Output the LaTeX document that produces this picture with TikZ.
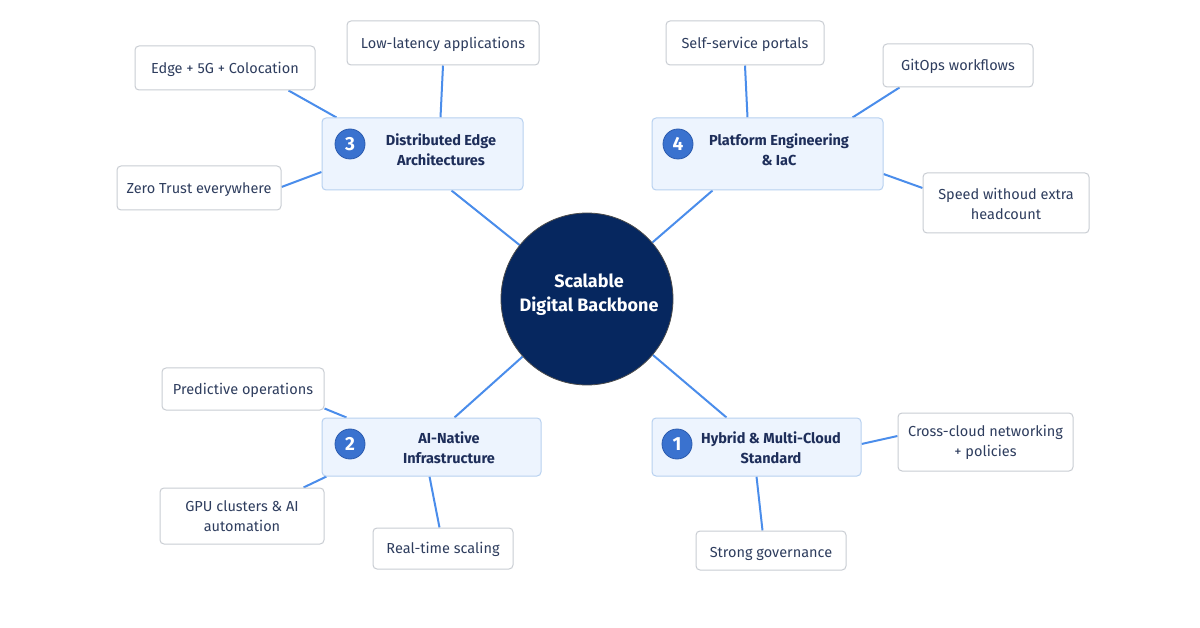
\documentclass[tikz,border=0pt]{standalone}
\usepackage{fontspec}
\setmainfont{Fira Sans}
\usetikzlibrary{backgrounds,calc}
\definecolor{navy}{HTML}{06275F}
\definecolor{linkblue}{HTML}{4A8DEB}
\definecolor{brfill}{HTML}{EDF4FE}
\definecolor{brdraw}{HTML}{B8D1F0}
\definecolor{numfill}{HTML}{3A72CF}
\definecolor{numdraw}{HTML}{2C5BAE}
\definecolor{brtext}{HTML}{1E2E5A}
\definecolor{lfdraw}{HTML}{C9CDD3}
\definecolor{lftext}{HTML}{2E3D5E}
\newcommand\lst{\rule{0pt}{14pt}}
\newcommand\lstb{\rule{0pt}{17pt}}
\tikzset{
  hub/.style={circle, fill=navy, draw=black!70, line width=0.8pt, minimum size=172pt, inner sep=0pt},
  hubtext/.style={text=white, align=center, font=\fontsize{18}{24}\selectfont\bfseries, inner sep=0pt},
  branch/.style={rectangle, rounded corners=4pt, fill=brfill, draw=brdraw, line width=1pt, inner sep=0pt},
  numbadge/.style={circle, fill=numfill, draw=numdraw, line width=0.8pt, minimum size=30pt, inner sep=0pt,
    text=white, font=\fontsize{19}{19}\selectfont\bfseries},
  brlabel/.style={align=center, text=brtext, font=\fontsize{14.5}{20}\selectfont\bfseries, inner sep=0pt},
  leaf/.style={rectangle, rounded corners=4pt, fill=white, draw=lfdraw, line width=1pt, inner sep=0pt,
    align=center, text=lftext, font=\fontsize{14.5}{20}\selectfont},
  link/.style={draw=linkblue, line width=2pt}
}
\begin{document}
\begin{tikzpicture}[x=1pt,y=-1pt]
\useasboundingbox (0,0) rectangle (1200,628);
% hub
\node[hub] (c) at (587,299) {};
\node[hubtext] (ct) at (589,295) {Scalable\\Digital Backbone};
% branches
\node[branch, minimum width=201pt, minimum height=72pt] (b3) at (422.5,154) {};
\node[numbadge] (n3) at (350,144) {3};
\node[brlabel] (t3) at (441,150) {Distributed Edge\\Architectures};
\node[branch, minimum width=231pt, minimum height=72pt] (b4) at (767.5,154) {};
\node[numbadge] (n4) at (678,144) {4};
\node[brlabel] (t4) at (779,150) {Platform Engineering\\\& IaC};
\node[branch, minimum width=219pt, minimum height=58pt] (b2) at (431.5,447) {};
\node[numbadge] (n2) at (350,444) {2};
\node[brlabel] (t2) at (449,448) {AI-Native\\Infrastructure};
\node[branch, minimum width=209pt, minimum height=58pt] (b1) at (756.5,447) {};
\node[numbadge] (n1) at (677,444) {1};
\node[brlabel] (t1) at (771,448) {Hybrid \& Multi-Cloud\\Standard};
% leaves
\node[leaf, minimum width=180pt, minimum height=44pt] (l3e) at (225,68) {\lst Edge + 5G + Colocation};
\node[leaf, minimum width=192pt, minimum height=44pt] (l3l) at (443,43) {\lst Low-latency applications};
\node[leaf, minimum width=164pt, minimum height=44pt] (l3z) at (199,188) {\lst Zero Trust everywhere};
\node[leaf, minimum width=158pt, minimum height=44pt] (l4s) at (745,43) {\lst Self-service portals};
\node[leaf, minimum width=150pt, minimum height=43pt] (l4g) at (958,65.5) {\lst GitOps workflows};
\node[leaf, minimum width=166pt, minimum height=60pt] (l4p) at (1006,203) {\lst Speed withoud extra\\headcount};
\node[leaf, minimum width=162pt, minimum height=42pt] (l2p) at (243,389) {\lst Predictive operations};
\node[leaf, minimum width=164pt, minimum height=56pt] (l2g) at (242,516) {GPU clusters \& AI\\automation};
\node[leaf, minimum width=140pt, minimum height=41pt] (l2r) at (443,548.5) {\lst Real-time scaling};
\node[leaf, minimum width=175pt, minimum height=58pt] (l1c) at (985.5,442) {Cross-cloud networking\\+ policies};
\node[leaf, minimum width=150pt, minimum height=39pt] (l1s) at (771,550.5) {\lstb Strong governance};
\begin{scope}[on background layer]
\fill[white] (0,0) rectangle (1200,628);
% hub to branches
\path[link] (c) -- ($(b3.south west)+(130,0)$);
\path[link] (c) -- ($(b4.south west)+(61,0)$);
\path[link] (c) -- ($(b2.north west)+(133,0)$);
\path[link] (c) -- ($(b1.north west)+(75,0)$);
% branch 3
\path[link] ($(l3e.south east)+(-27,0)$) -- ($(b3.north west)+(15,0)$);
\path[link] (l3l.south) -- ($(b3.north west)+(119,0)$);
\path[link] ($(l3z.east)+(0,-1)$) -- ($(b3.west)+(0,18)$);
% branch 4
\path[link] (l4s.south) -- ($(b4.north west)+(96,0)$);
\path[link] ($(l4g.south west)+(17,0)$) -- ($(b4.north west)+(201,0)$);
\path[link] ($(b4.east)+(0,20)$) -- ($(l4p.west)+(0,-15)$);
% branch 2
\path[link] ($(l2p.south east)+(0,-2)$) -- ($(b2.north west)+(25,0)$);
\path[link] ($(l2g.north east)+(-21,0)$) -- ($(b2.south west)+(5,0)$);
\path[link] ($(b2.south west)+(108,0)$) -- ($(l2r.north west)+(67,0)$);
% branch 1
\path[link] ($(b1.east)+(0,-3)$) -- ($(l1c.west)+(0,-6)$);
\path[link] ($(b1.south west)+(105,0)$) -- ($(l1s.north west)+(67,0)$);
\end{scope}
\end{tikzpicture}
\end{document}
